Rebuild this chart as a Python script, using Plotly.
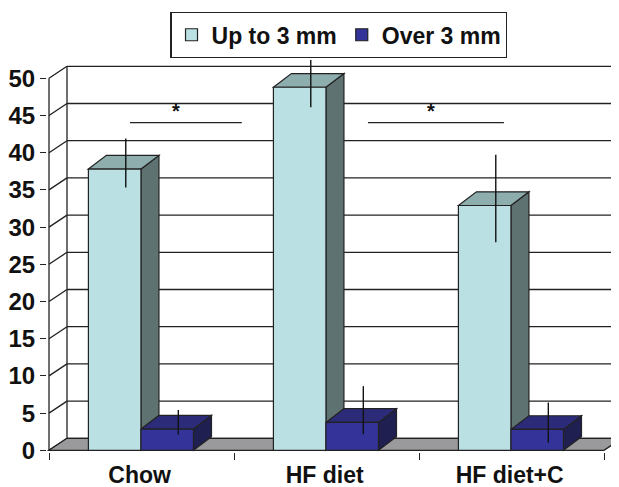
import plotly.graph_objects as go

# ---- data ----
categories = ["Chow", "HF diet", "HF diet+C"]
series_names = ["Up to 3 mm", "Over 3 mm"]
up_to_3mm = [37.8, 48.8, 32.9]
over_3mm = [2.85, 3.75, 2.8]
up_err_plus = [3.2, 3.6, 5.9]
up_err_minus = [3.4, 3.6, 5.85]
over_err_plus = [1.65, 3.95, 2.7]
over_err_minus = [1.65, 2.5, 2.7]
y_ticks = [0, 5, 10, 15, 20, 25, 30, 35, 40, 45, 50]

# ---- styling / geometry ----
FONT = "Liberation Sans, Arial, Helvetica, sans-serif"
LINE = "#222222"
LIGHT = dict(front="#bbe0e3", top="#8eadad", side="#5e7272")
DARK = dict(front="#333399", top="#2c2b79", side="#1f1f52")
FLOOR = "#9a9a9c"

DX = 18 / 185.0       # depth offset in x units
DYW = 12 / 7.44       # depth offset (wall/floor) in y units
DYB = 13.7 / 7.44     # depth offset (bars) in y units
BW = 0.284            # bar width
LIGHT_OFF = 0.355
DARK_OFF = 0.639
n = len(categories)

x_light = [i + LIGHT_OFF for i in range(n)]
x_dark = [i + DARK_OFF for i in range(n)]

shapes = []

def path(pts):
    return "M " + " L ".join(f"{x},{y}" for x, y in pts) + " Z"

ymax = y_ticks[-1]
# back wall gridlines + diagonals
for v in y_ticks:
    shapes.append(dict(type="line", xref="x", yref="y", x0=0, y0=v, x1=DX, y1=v + DYW,
                       line=dict(color=LINE, width=1.3), layer="below"))
    shapes.append(dict(type="line", xref="x", yref="y", x0=DX, y0=v + DYW, x1=n + 1, y1=v + DYW,
                       line=dict(color=LINE, width=1.3), layer="below"))
# back wall left edge
shapes.append(dict(type="line", xref="x", yref="y", x0=DX, y0=DYW, x1=DX, y1=ymax + DYW,
                   line=dict(color=LINE, width=1.3), layer="below"))
# front axis line
shapes.append(dict(type="line", xref="x", yref="y", x0=0, y0=0, x1=0, y1=ymax,
                   line=dict(color=LINE, width=1.3), layer="below"))
# floor
shapes.append(dict(type="path", xref="x", yref="y",
                   path=path([(0, 0), (n, 0), (n + DX, DYW), (DX, DYW)]),
                   fillcolor=FLOOR, line=dict(color=LINE, width=1.3), layer="below"))

def bar3d(xc, v, col):
    x0 = xc - BW / 2
    x1 = xc + BW / 2
    shapes.append(dict(type="path", xref="x", yref="y",
                       path=path([(x1, 0), (x1 + DX, DYB), (x1 + DX, v + DYB), (x1, v)]),
                       fillcolor=col["side"], line=dict(color=LINE, width=1.2), layer="below"))
    shapes.append(dict(type="path", xref="x", yref="y",
                       path=path([(x0, v), (x0 + DX, v + DYB), (x1 + DX, v + DYB), (x1, v)]),
                       fillcolor=col["top"], line=dict(color=LINE, width=1.2), layer="below"))

for i in range(n):
    bar3d(x_light[i], up_to_3mm[i], LIGHT)
    bar3d(x_dark[i], over_3mm[i], DARK)

# significance lines
shapes.append(dict(type="line", xref="x", yref="y", x0=0.438, y0=44.05, x1=1.042, y1=44.05,
                   line=dict(color=LINE, width=1.3)))
shapes.append(dict(type="line", xref="x", yref="y", x0=1.724, y0=44.05, x1=2.459, y1=44.05,
                   line=dict(color=LINE, width=1.3)))

fig = go.Figure()
fig.add_trace(go.Bar(x=x_light, y=up_to_3mm, width=BW, name=series_names[0],
                     marker=dict(color=LIGHT["front"], line=dict(color=LINE, width=1.2))))
fig.add_trace(go.Bar(x=x_dark, y=over_3mm, width=BW, name=series_names[1],
                     marker=dict(color=DARK["front"], line=dict(color=LINE, width=1.2))))

# error bars (mid-depth plane)
fig.add_trace(go.Scatter(x=[x + 0.06 for x in x_light], y=[v + DYB / 2 for v in up_to_3mm],
                         mode="markers", marker=dict(size=0.1, color="rgba(0,0,0,0)"),
                         error_y=dict(type="data", symmetric=False, array=up_err_plus,
                                      arrayminus=up_err_minus, width=0, thickness=1.4, color="#111"),
                         showlegend=False, hoverinfo="skip"))
fig.add_trace(go.Scatter(x=[x + 0.06 for x in x_dark], y=[v + DYB / 2 for v in over_3mm],
                         mode="markers", marker=dict(size=0.1, color="rgba(0,0,0,0)"),
                         error_y=dict(type="data", symmetric=False, array=over_err_plus,
                                      arrayminus=over_err_minus, width=0, thickness=1.4, color="#111"),
                         showlegend=False, hoverinfo="skip"))
# invisible trace for secondary x axis (boundary ticks)
fig.add_trace(go.Scatter(x=[0, n], y=[0, 0], xaxis="x2", mode="markers",
                         marker=dict(size=0.1, color="rgba(0,0,0,0)"), showlegend=False, hoverinfo="skip"))

# page body has an 8px margin, so the figure is 8px smaller and all positions shifted
xr = [-2 / 185.0, -2 / 185.0 + 572 / 185.0]
fig.update_layout(
    width=611, height=479,
    margin=dict(l=39, r=0, t=52, b=35, autoexpand=False),
    paper_bgcolor="white", plot_bgcolor="white",
    barmode="overlay",
    shapes=shapes,
    font=dict(family=FONT, size=23, color="#111", weight="bold"),
    xaxis=dict(range=xr, tickvals=[i + 0.49 for i in range(n)], ticktext=categories,
               ticks="outside", ticklen=2, tickcolor="rgba(0,0,0,0)",
               showgrid=False, zeroline=False, showline=False, automargin=False,
               tickfont=dict(size=23, family=FONT, weight="bold")),
    xaxis2=dict(range=xr, overlaying="x", side="bottom", tickvals=list(range(n + 1)),
                showticklabels=False, ticks="outside", ticklen=7, tickcolor=LINE, tickwidth=1.3,
                showgrid=False, zeroline=False, showline=False, automargin=False),
    yaxis=dict(range=[-1.7 / 7.44, (450.3 - 60) / 7.44], tickvals=y_ticks,
               ticks="outside", ticklen=6, tickcolor=LINE, tickwidth=1.3,
               showgrid=False, zeroline=False, showline=False, automargin=False,
               tickfont=dict(size=24, family=FONT, weight="bold")),
    legend=dict(orientation="h", x=0.51, xanchor="center", y=(444 - 4) / 392, yanchor="top",
                bordercolor="#222", borderwidth=1.3, bgcolor="white",
                font=dict(size=23, family=FONT, weight="bold")),
    annotations=[
        dict(x=0.685, y=45.6, xref="x", yref="y", text="*", showarrow=False,
             font=dict(size=20, family=FONT, weight="bold")),
        dict(x=2.063, y=45.6, xref="x", yref="y", text="*", showarrow=False,
             font=dict(size=20, family=FONT, weight="bold")),
    ],
)

fig.write_html("out.html")
